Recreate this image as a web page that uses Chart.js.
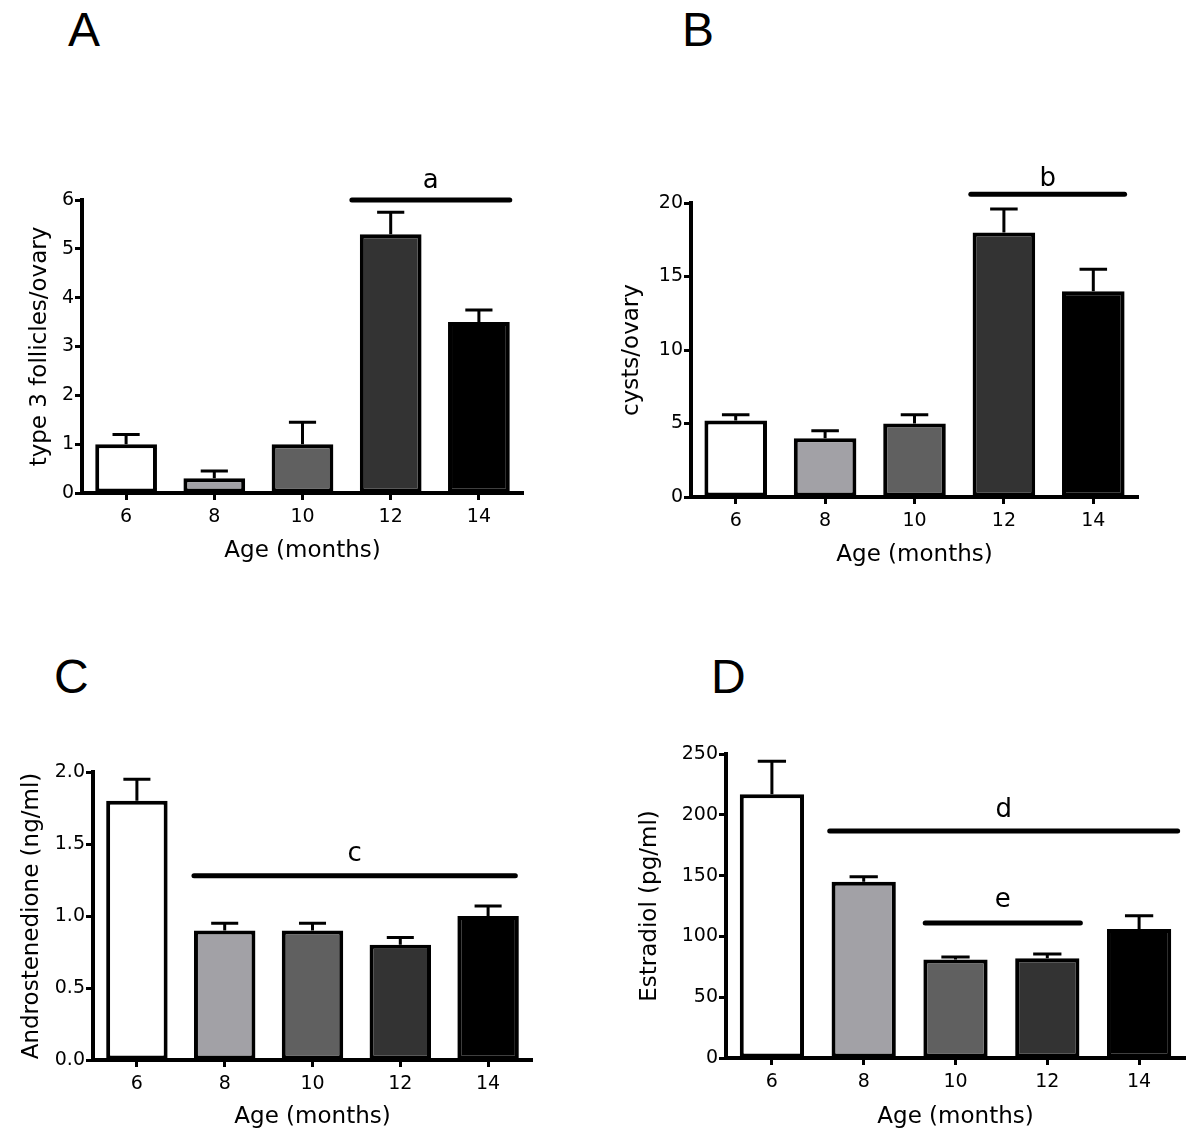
<!DOCTYPE html>
<html>
<head>
<meta charset="utf-8">
<script src="https://cdn.jsdelivr.net/npm/chart.js@4.4.1/dist/chart.umd.min.js"></script>
<style>
  body { margin: 0; background: #fff; }
  #page { position: relative; width: 1200px; height: 1143px; overflow: hidden; }
  canvas { position: absolute; }
  .letter { position: absolute; font: 48px "Liberation Sans", Arial, sans-serif; line-height: 48px; color: #000; }
</style>
</head>
<body>
<div id="page">
  <div class="letter" style="left:68px;top:6px">A</div>
  <div class="letter" style="left:682px;top:6px">B</div>
  <div class="letter" style="left:54px;top:653px">C</div>
  <div class="letter" style="left:711px;top:653px">D</div>
  <canvas id="chartA" width="600" height="580" style="left:0;top:0"></canvas>
  <canvas id="chartB" width="600" height="580" style="left:600px;top:0"></canvas>
  <canvas id="chartC" width="600" height="563" style="left:0;top:580px"></canvas>
  <canvas id="chartD" width="600" height="563" style="left:600px;top:580px"></canvas>
</div>
<script>
// ages shared by every panel
const ages = ['6', '8', '10', '12', '14'];
const barColors = ['#ffffff', '#a2a1a6', '#606060', '#333333', '#000000'];

// A: type 3 follicles/ovary
const folliclesMean = [1.0, 0.3, 1.0, 5.3, 3.5];
const folliclesSem = [0.2, 0.15, 0.45, 0.45, 0.25];
// B: cysts/ovary
const cystsMean = [5.2, 4.0, 5.0, 18.0, 14.0];
const cystsSem = [0.4, 0.5, 0.6, 1.6, 1.5];
// C: androstenedione (ng/ml)
const androMean = [1.8, 0.9, 0.9, 0.8, 1.0];
const androSem = [0.15, 0.05, 0.05, 0.05, 0.07];
// D: estradiol (pg/ml)
const estraMean = [217, 145, 81, 82, 106];
const estraSem = [27, 4, 2, 3.5, 11];

// significance bars: from/to in category index units, y in data units
const sigA = [{ from: 2.56, to: 4.35, y: 6.0, text: 'a', gap: 12 }];
const sigB = [{ from: 2.63, to: 4.35, y: 20.6, text: 'b', gap: 8 }];
const sigC = [{ from: 0.65, to: 4.31, y: 1.28, text: 'c', gap: 15 }];
const sigD = [
  { from: 0.63, to: 4.42, y: 186.7, text: 'd', gap: 14 },
  { from: 1.67, to: 3.36, y: 111, text: 'e', gap: 16 }
];

const FONT = '"DejaVu Sans", Arial, sans-serif';
const TICK_SIZE = 19;
const TITLE_SIZE = 23;

const annotate = {
  id: 'annotate',
  afterDatasetsDraw(chart, args, opts) {
    const { ctx, scales: { x, y } } = chart;
    const meta = chart.getDatasetMeta(0);
    const values = chart.data.datasets[0].data;
    ctx.save();
    ctx.strokeStyle = '#000';
    ctx.lineWidth = 3;
    meta.data.forEach((bar, i) => {
      const top = y.getPixelForValue(values[i] + opts.err[i]);
      const half = bar.width * 0.22;
      ctx.beginPath();
      ctx.moveTo(bar.x, bar.y);
      ctx.lineTo(bar.x, top);
      ctx.moveTo(bar.x - half, top);
      ctx.lineTo(bar.x + half, top);
      ctx.stroke();
    });
    ctx.lineWidth = 5;
    ctx.lineCap = 'round';
    ctx.fillStyle = '#000';
    ctx.font = '26px ' + FONT;
    ctx.textAlign = 'center';
    ctx.textBaseline = 'alphabetic';
    opts.sig.forEach(s => {
      const x1 = x.getPixelForValue(s.from);
      const x2 = x.getPixelForValue(s.to);
      const py = y.getPixelForValue(s.y);
      ctx.beginPath();
      ctx.moveTo(x1, py);
      ctx.lineTo(x2, py);
      ctx.stroke();
      ctx.fillText(s.text, (x1 + x2) / 2, py - s.gap);
    });
    ctx.restore();
  }
};

function panel(id, o) {
  const lh = TITLE_SIZE * 1.2;
  const L = o.area.left - o.x, R = o.area.right - o.x;
  const T = o.area.top - o.y, B = o.area.bottom - o.y;
  const padLeft = o.yTitleX - o.x - lh / 2;
  const yW = L - padLeft;
  const padBottom = o.h - (o.xTitleY - o.y) - lh / 2;
  const xH = (o.h - padBottom) - B;

  new Chart(document.getElementById(id), {
    type: 'bar',
    data: {
      labels: ages,
      datasets: [{
        data: o.values,
        backgroundColor: barColors,
        borderColor: '#000',
        borderWidth: 4,
        borderSkipped: false,
        categoryPercentage: 1,
        barPercentage: 0.7
      }]
    },
    options: {
      responsive: false,
      animation: false,
      layout: { padding: { left: padLeft, right: o.w - R, top: T, bottom: padBottom } },
      plugins: {
        legend: { display: false },
        tooltip: { enabled: false },
        annotate: { err: o.err, sig: o.sig }
      },
      scales: {
        x: {
          offset: true,
          grid: { display: true, drawOnChartArea: false, offset: false, tickLength: 7, tickWidth: 3, tickColor: '#000' },
          border: { display: true, width: 4, color: '#000' },
          ticks: { color: '#000', padding: 6, font: { family: FONT, size: TICK_SIZE } },
          title: { display: true, text: 'Age (months)', color: '#000', padding: 0, font: { family: FONT, size: TITLE_SIZE, lineHeight: 1.2 } },
          afterFit: s => { s.height = xH; }
        },
        y: {
          min: 0,
          max: o.max,
          grid: { display: true, drawOnChartArea: false, tickLength: 7, tickWidth: 3, tickColor: '#000' },
          border: { display: true, width: 4, color: '#000' },
          ticks: { color: '#000', padding: 1, stepSize: o.step, font: { family: FONT, size: TICK_SIZE },
                   callback: v => o.decimals ? v.toFixed(o.decimals) : v },
          title: { display: true, text: o.yTitle, color: '#000', padding: 0, font: { family: FONT, size: TITLE_SIZE, lineHeight: 1.2 } },
          afterFit: s => { s.width = yW; }
        }
      }
    },
    plugins: [annotate]
  });
}

panel('chartA', {
  x: 0, y: 0, w: 600, h: 580,
  area: { left: 82, right: 523, top: 200, bottom: 493 },
  yTitleX: 40, xTitleY: 551,
  values: folliclesMean, err: folliclesSem, sig: sigA,
  max: 6, step: 1, decimals: 0, yTitle: 'type 3 follicles/ovary'
});
panel('chartB', {
  x: 600, y: 0, w: 600, h: 580,
  area: { left: 691, right: 1138, top: 203, bottom: 497 },
  yTitleX: 632, xTitleY: 555,
  values: cystsMean, err: cystsSem, sig: sigB,
  max: 20, step: 5, decimals: 0, yTitle: 'cysts/ovary'
});
panel('chartC', {
  x: 0, y: 580, w: 600, h: 563,
  area: { left: 93, right: 532, top: 772, bottom: 1060 },
  yTitleX: 32, xTitleY: 1117,
  values: androMean, err: androSem, sig: sigC,
  max: 2, step: 0.5, decimals: 1, yTitle: 'Androstenedione (ng/ml)'
});
panel('chartD', {
  x: 600, y: 580, w: 600, h: 563,
  area: { left: 726, right: 1185, top: 754, bottom: 1058 },
  yTitleX: 650, xTitleY: 1117,
  values: estraMean, err: estraSem, sig: sigD,
  max: 250, step: 50, decimals: 0, yTitle: 'Estradiol (pg/ml)'
});
</script>
</body>
</html>
